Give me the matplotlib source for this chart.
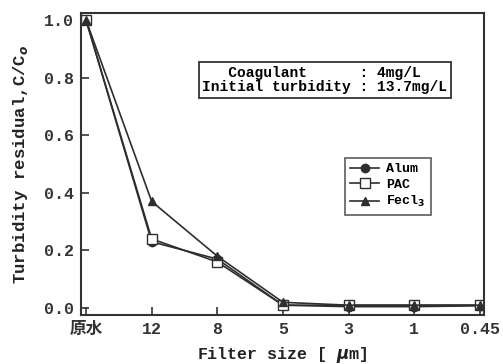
import matplotlib.pyplot as plt
import numpy as np

plt.rcParams['font.family'] = ['Liberation Mono', 'Noto Sans CJK JP', 'DejaVu Sans']
plt.rcParams['font.weight'] = 'bold'

# filter sizes, first one is raw water
sizes = ['原水', '12', '8', '5', '3', '1', '0.45']
alum = [1.0, 0.23, 0.17, 0.01, 0.005, 0.005, 0.008]
pac = [1.0, 0.24, 0.16, 0.01, 0.01, 0.01, 0.01]
fecl3 = [1.0, 0.37, 0.18, 0.02, 0.01, 0.01, 0.01]

x = np.arange(len(sizes))

fig = plt.figure(figsize=(5.03, 3.64), dpi=100)
ax = fig.add_axes([81 / 503, 1 - 315 / 364, 403 / 503, 302 / 364])

col = '#2e2e2e'
ax.plot(x, alum, '-o', color=col, lw=1.2, ms=6, mfc=col, label='Alum')
ax.plot(x, pac, '-s', color=col, lw=1.2, ms=7, mfc='white', label='PAC')
ax.plot(x, fecl3, '-^', color=col, lw=1.2, ms=6, mfc=col, label='Fecl$_3$')

ax.set_xlim(-0.076, 6.06)
ax.set_ylim(-0.024, 1.024)
ax.set_xticks(x)
ax.set_xticklabels(sizes)
ax.set_yticks([0.0, 0.2, 0.4, 0.6, 0.8, 1.0])
ax.set_yticklabels(['0.0', '0.2', '0.4', '0.6', '0.8', '1.0'])
ax.tick_params(direction='in', length=6, width=1.2, labelsize=12, colors='#333333',
               top=False, right=False, pad=5)
for s in ax.spines.values():
    s.set_linewidth(1.5)
    s.set_color('#333333')

ax.set_xlabel('Filter size [ $\\mu$m]', fontsize=12, fontweight='bold', color='#222222', labelpad=6)
ax.set_ylabel('Turbidity residual,C/C$_o$', fontsize=12.5, fontweight='bold', color='#222222', labelpad=10)

ax.text(0.605, 0.778, '   Coagulant      : 4mg/L\nInitial turbidity : 13.7mg/L',
        transform=ax.transAxes, ha='center', va='center', fontsize=10.5, fontweight='bold',
        linespacing=1.0, multialignment='left',
        bbox=dict(boxstyle='square,pad=0.25', fc='white', ec='#333333', lw=1.3))

leg = ax.legend(loc='upper left', bbox_to_anchor=(0.655, 0.52), fontsize=9.5, frameon=True,
                fancybox=False, edgecolor='#333333', handlelength=2.2, borderpad=0.4,
                labelspacing=0.25, handletextpad=0.5, borderaxespad=0)
leg.get_frame().set_linewidth(1.2)

fig.savefig('out.png', dpi=100)
